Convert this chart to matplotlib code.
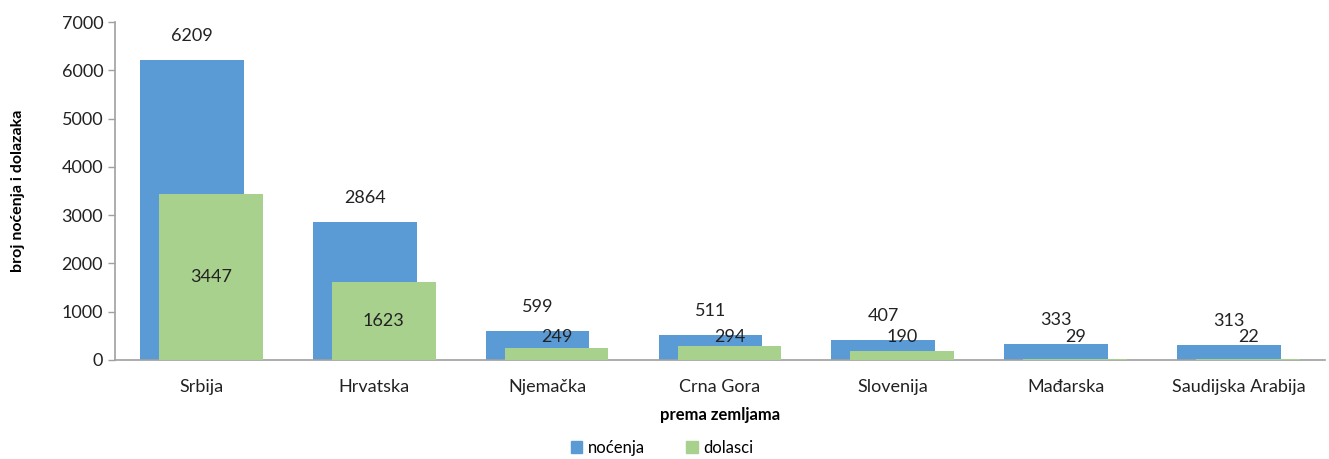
import matplotlib.pyplot as plt
import numpy as np

plt.rcParams['font.family'] = ['Lato', 'DejaVu Sans']

zemlje = ['Srbija', 'Hrvatska', 'Njemačka', 'Crna Gora', 'Slovenija', 'Mađarska', 'Saudijska Arabija']
nocenja = [6209, 2864, 599, 511, 407, 333, 313]
dolasci = [3447, 1623, 249, 294, 190, 29, 22]

blue = '#5B9BD5'
green = '#A9D18E'

fig = plt.figure(figsize=(13.29, 4.59), dpi=100)
ax = fig.add_axes([0.0865, 0.2157, 0.9105, 0.7363])

x = np.arange(len(zemlje))
w = 0.6
off = 0.055
ax.bar(x - off, nocenja, w, color=blue, zorder=2)
ax.bar(x + off, dolasci, w, color=green, zorder=3)

# oznake vrijednosti
for i, v in enumerate(nocenja):
    ax.text(x[i] - off, v + 500, str(v), ha='center', va='center', fontsize=13, color='#222222', zorder=5)
for i, v in enumerate(dolasci):
    yy = v / 2 if v > 1000 else 480
    ax.text(x[i] + off, yy, str(v), ha='center', va='center', fontsize=13, color='#222222', zorder=5)

ax.set_xlim(-0.5, len(zemlje) - 0.5)
ax.set_ylim(0, 7000)
ax.set_yticks(range(0, 7001, 1000))
ax.set_xticks(x)
ax.set_xticklabels(zemlje)
ax.tick_params(axis='x', length=0, pad=14, labelsize=13, colors='#222222')
ax.tick_params(axis='y', length=5, width=1, color='#A0A0A0', labelsize=13, labelcolor='#222222')
for s in ['top', 'right']:
    ax.spines[s].set_visible(False)
for s in ['left', 'bottom']:
    ax.spines[s].set_color('#A0A0A0')
    ax.spines[s].set_linewidth(1.2)

ax.set_xlabel('prema zemljama', fontsize=12, fontweight='bold', labelpad=8)
ax.set_ylabel('broj noćenja i dolazaka', fontsize=11.5, fontweight='bold', labelpad=26)

h1 = plt.Rectangle((0, 0), 1, 1, color=blue)
h2 = plt.Rectangle((0, 0), 1, 1, color=green)
fig.legend([h1, h2], ['noćenja', 'dolasci'], loc='center', bbox_to_anchor=(0.498, 0.024),
           ncol=2, frameon=False, fontsize=12, handlelength=0.7, handleheight=0.7,
           handletextpad=0.3, columnspacing=2.5)

fig.savefig('out.png', dpi=100)
